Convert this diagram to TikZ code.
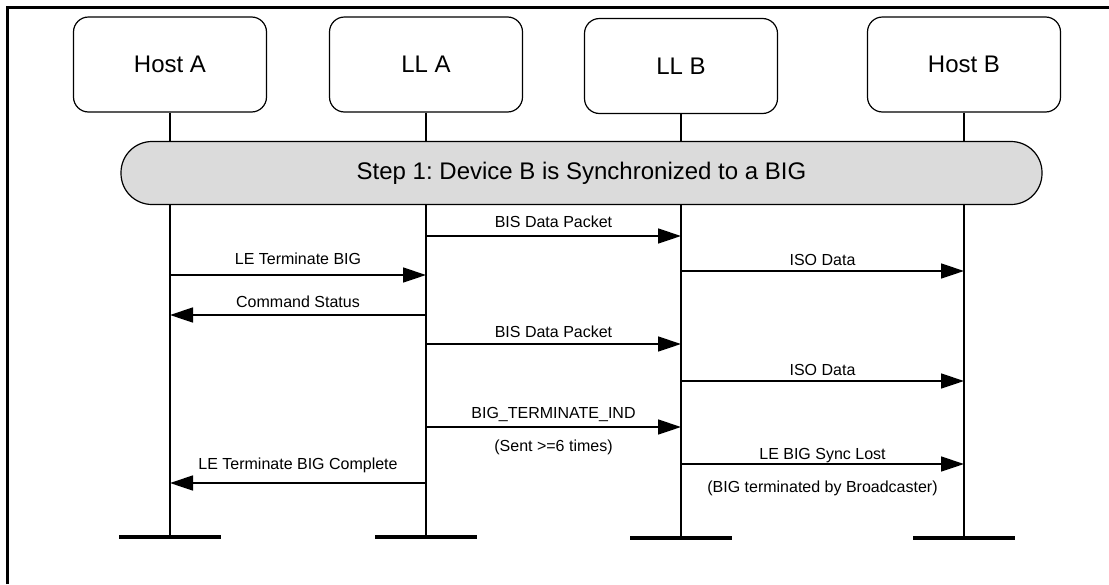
\documentclass[tikz,border=0pt]{standalone}
\usepackage{fontspec}
\setmainfont{Liberation Sans}
\usepackage{tikz}
\usetikzlibrary{arrows.meta,positioning}
\frenchspacing
\tikzset{
  seqBox/.style={draw, rounded corners=7.5pt, line width=0.6pt, minimum width=96.5pt, minimum height=47.5pt, inner sep=0pt, font=\fontsize{12}{14}\selectfont},
  seqStep/.style={draw, rounded corners=15.5pt, line width=0.6pt, fill=gray!28, minimum width=460.5pt, minimum height=31.5pt, inner sep=0pt, font=\fontsize{12}{14}\selectfont},
  seqLifeline/.style={line width=0.6pt},
  seqEnd/.style={line width=1.6pt},
  seqArrow/.style={-{Triangle[length=11.5pt,width=7.5pt]}, line width=0.7pt},
  seqLabel/.style={anchor=base, yshift=4pt, inner sep=0pt, font=\fontsize{8}{9.6}\selectfont},
  seqNote/.style={anchor=base, yshift=-12pt, inner sep=0pt, font=\fontsize{8}{9.6}\selectfont}
}

\begin{document}
\begin{tikzpicture}[x=0.5pt, y=-0.5pt]
      \useasboundingbox (0,0) rectangle (1109,584);
      % frame
      \draw[line width=1.5pt] (7,584) -- (7,7) -- (1109,7);
      % participants
      \node[seqBox] (hostA) at (170,64.5) {Host A};
      \node[seqBox] (llA) at (426,64.5) {LL A};
      \node[seqBox] (llB) at (681,66) {LL B};
      \node[seqBox] (hostB) at (964,64.5) {Host B};
      \coordinate (hostAEnd) at (170,537);
      \coordinate (llAEnd) at (426,537);
      \coordinate (llBEnd) at (681,538);
      \coordinate (hostBEnd) at (964,538);
      \draw[seqLifeline] (hostA) -- (hostAEnd);
      \draw[seqLifeline] (llA) -- (llAEnd);
      \draw[seqLifeline] (llB) -- (llBEnd);
      \draw[seqLifeline] (hostB) -- (hostBEnd);
      \draw[seqEnd] ([xshift=-25.5pt]hostAEnd) -- ([xshift=25.5pt]hostAEnd);
      \draw[seqEnd] ([xshift=-25.5pt]llAEnd) -- ([xshift=25.5pt]llAEnd);
      \draw[seqEnd] ([xshift=-25.5pt]llBEnd) -- ([xshift=25.5pt]llBEnd);
      \draw[seqEnd] ([xshift=-25.5pt]hostBEnd) -- ([xshift=25.5pt]hostBEnd);
      % step
      \node[seqStep] (step) at (581.5,173) {Step 1: Device B is Synchronized to a BIG};
      % messages
      \draw[seqArrow] (llA.south |- 0,236) -- node[seqLabel, yshift=0.5pt] {BIS Data Packet} (llB.south |- 0,236);
      \draw[seqArrow] (hostA.south |- 0,275) -- node[seqLabel, yshift=1.5pt] {LE Terminate BIG} (llA.south |- 0,275);
      \draw[seqArrow] (llB.south |- 0,271) -- node[seqLabel, yshift=-1pt] {ISO Data} (hostB.south |- 0,271);
      \draw[seqArrow] (llA.south |- 0,315) -- node[seqLabel] {Command Status} (hostA.south |- 0,315);
      \draw[seqArrow] (llA.south |- 0,344) -- node[seqLabel, yshift=-0.5pt] {BIS Data Packet} (llB.south |- 0,344);
      \draw[seqArrow] (llB.south |- 0,381) -- node[seqLabel, yshift=-1pt] {ISO Data} (hostB.south |- 0,381);
      \draw[seqArrow] (llA.south |- 0,427) -- node[seqLabel, yshift=0.5pt] {BIG\_TERMINATE\_IND} node[seqNote] {(Sent >=6 times)} (llB.south |- 0,427);
      \draw[seqArrow] (llB.south |- 0,464) -- node[seqLabel, yshift=-1.5pt] {LE BIG Sync Lost} node[seqNote, yshift=-2pt] {(BIG terminated by Broadcaster)} (hostB.south |- 0,464);
      \draw[seqArrow] (llA.south |- 0,483) -- node[seqLabel, yshift=3pt] {LE Terminate BIG Complete} (hostA.south |- 0,483);
\end{tikzpicture}
\end{document}
